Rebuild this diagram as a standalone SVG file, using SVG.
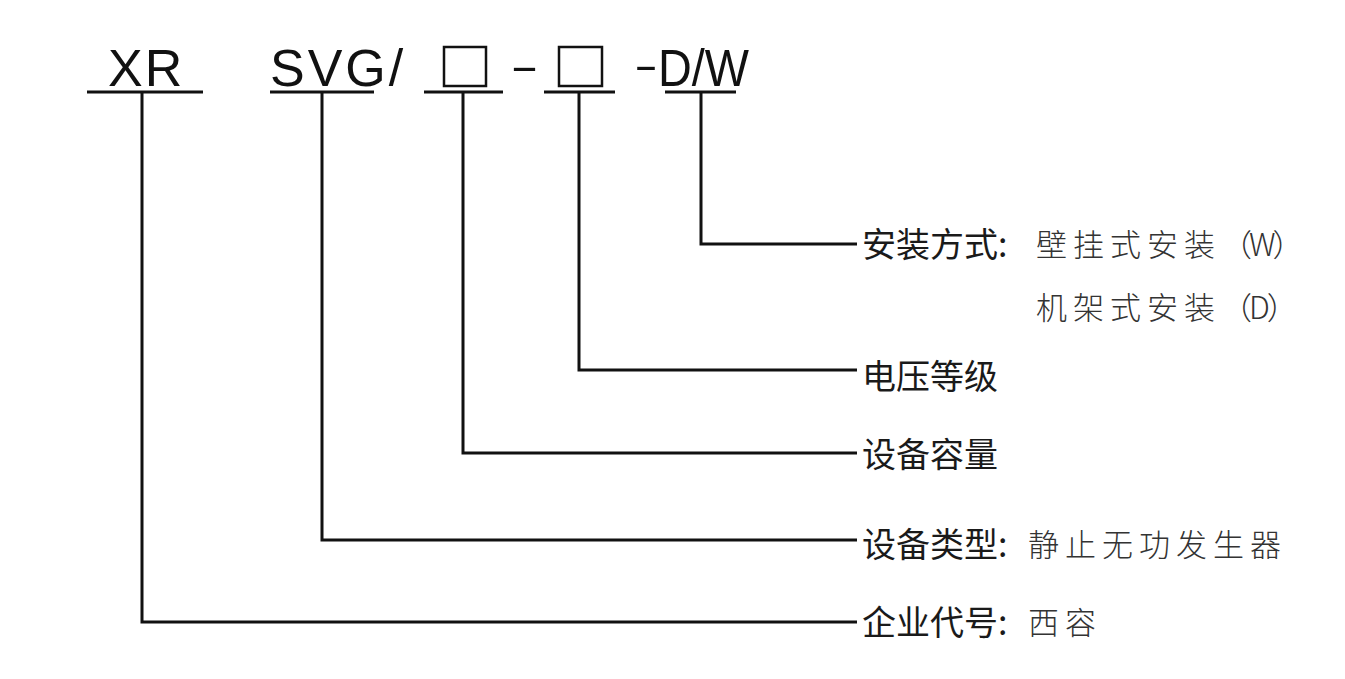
<svg xmlns="http://www.w3.org/2000/svg" width="1345" height="679" viewBox="0 0 1345 679">
<style>
.code{font-family:"Liberation Sans",Arial,sans-serif;font-size:52px;fill:#111;}
.dash{font-family:"Liberation Sans",Arial,sans-serif;font-size:40px;fill:#111;}
.ul{stroke:#111;stroke-width:3;fill:none;}
.box{stroke:#111;stroke-width:2.5;fill:none;}
.conn{stroke:#111;stroke-width:3;fill:none;stroke-linejoin:miter;}
.lbl{font-family:"Noto Sans CJK SC","Noto Sans",sans-serif;font-size:34px;fill:#1a1a1a;}
.val{font-family:"Noto Sans CJK SC","Noto Sans",sans-serif;font-size:31px;fill:#333;font-weight:300;}
</style>
<rect width="1345" height="679" fill="#fff"/>
<g id="connectors">
<path class="conn" d="M142 92 V622 H857"/>
<path class="conn" d="M322 92 V540 H857"/>
<path class="conn" d="M463 92 V453 H857"/>
<path class="conn" d="M579 92 V370 H857"/>
<path class="conn" d="M701 92 V244 H857"/>
</g>
<g id="node-xr">
<text class="code" x="108" y="86" letter-spacing="2">XR</text>
<line class="ul" x1="87" y1="92" x2="203" y2="92"/>
</g>
<g id="node-svg">
<text class="code" x="270" y="86" letter-spacing="3">SVG/</text>
<line class="ul" x1="270" y1="92" x2="374" y2="92"/>
</g>
<g id="node-capacity">
<rect class="box" x="444" y="47" width="42" height="39"/>
<line class="ul" x1="424" y1="92" x2="503" y2="92"/>
</g>
<text class="dash" x="510" y="80" textLength="29" lengthAdjust="spacingAndGlyphs">-</text>
<g id="node-voltage">
<rect class="box" x="559" y="47" width="43" height="39"/>
<line class="ul" x1="544" y1="92" x2="615" y2="92"/>
</g>
<text class="dash" x="634" y="79" textLength="24" lengthAdjust="spacingAndGlyphs">-</text>
<g id="node-dw">
<text class="code" x="658" y="86" textLength="91" lengthAdjust="spacingAndGlyphs">D/W</text>
<line class="ul" x1="665" y1="92" x2="736" y2="92"/>
</g>
<g id="label-install">
<text class="lbl" x="862" y="257">安装方式:</text>
<text class="val" x="1036" y="256" letter-spacing="6">壁挂式安装<tspan letter-spacing="-3">（W）</tspan></text>
<text class="val" x="1036" y="319" letter-spacing="6">机架式安装<tspan letter-spacing="-3">（D）</tspan></text>
</g>
<g id="label-voltage">
<text class="lbl" x="862" y="389">电压等级</text>
</g>
<g id="label-capacity">
<text class="lbl" x="862" y="467">设备容量</text>
</g>
<g id="label-type">
<text class="lbl" x="862" y="557">设备类型:</text>
<text class="val" x="1028" y="556" letter-spacing="6">静止无功发生器</text>
</g>
<g id="label-company">
<text class="lbl" x="862" y="635">企业代号:</text>
<text class="val" x="1028" y="634" letter-spacing="6">西容</text>
</g>
</svg>
